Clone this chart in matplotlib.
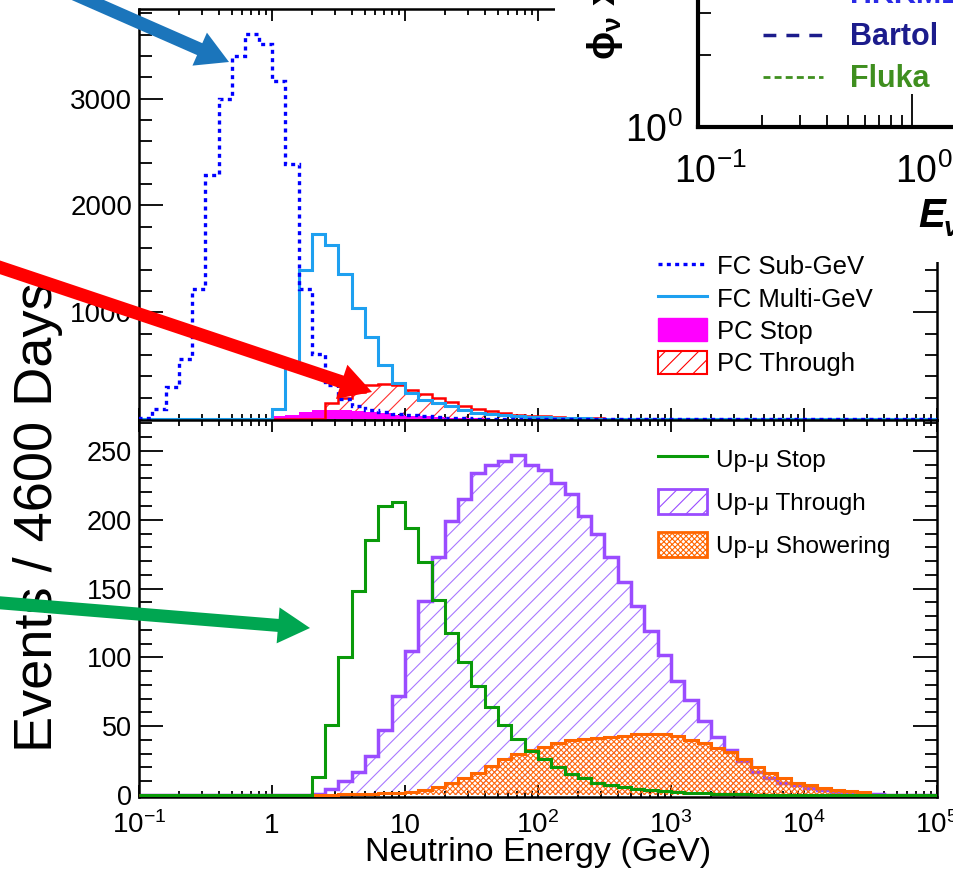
import numpy as np
import matplotlib.pyplot as plt
from matplotlib.patches import FancyArrow, Rectangle, Patch
from matplotlib.lines import Line2D
from matplotlib.ticker import (MultipleLocator, FixedLocator, LogLocator,
                               FuncFormatter, NullFormatter)
from matplotlib.transforms import IdentityTransform, ScaledTranslation

plt.rcParams['font.family'] = ['Liberation Sans', 'DejaVu Sans']
plt.rcParams['mathtext.default'] = 'regular'
plt.rcParams['hatch.linewidth'] = 0.8

# neutrino energy bins, 10 per decade from 0.1 GeV to 1e5 GeV
log_edges = np.round(np.arange(-1.0, 5.05, 0.1), 1)
edges = 10 ** log_edges

# FC / PC samples: first bin (log10 E) and the bin contents from there on
fc_subgev_start = -1.0
fc_subgev = [10, 97, 300, 559, 1214, 2282, 2993, 3396, 3609, 3515, 3162, 2391,
             1214, 610, 322, 191, 122, 82, 62, 48, 35, 26, 18, 12, 8, 5, 3, 2, 1]
fc_multigev_start = 0.0
fc_multigev = [90, 520, 1400, 1728, 1634, 1362, 1043, 769, 508, 337, 244, 180,
               150, 118, 88, 60, 48, 36, 30, 22, 16, 12, 9, 6, 4, 3, 2, 1.5, 1]
pc_stop_start = -0.3
pc_stop = [2, 4, 10, 26, 41, 62, 81, 87, 82, 75, 64, 52, 42, 33, 25, 18, 13, 9,
           6, 4, 3, 2, 1]
pc_through_start = 0.4
pc_through = [150, 200, 250, 320, 325, 320, 275, 235, 195, 155, 125, 95, 72, 55,
              42, 32, 25, 18, 13, 9, 6, 4, 3, 2, 1.5, 1]

# upward-going muon samples
upmu_stop_start = 0.3
upmu_stop = [13, 51, 100, 148, 185, 210, 213, 194, 169, 142, 118, 97, 79, 64, 51,
             41, 32, 26, 20, 15, 12, 9, 7, 5.6, 4.4, 3.4, 2.7, 2.2, 1.6, 1.2, 0.9,
             0.6, 0.4, 0.3]
upmu_through_start = 0.3
upmu_through = [1, 4, 10, 17, 28, 47, 72, 105, 141, 173, 199, 215, 234, 240, 243,
                247, 240, 236, 227, 219, 203, 190, 173, 155, 137, 119, 102, 83,
                69, 54, 42, 33, 24.5, 17, 12.4, 8.7, 7, 5, 3.9, 2.5, 1.5, 0.8, 0.4]
upmu_shower_start = 0.4
upmu_shower = [0.3, 0.5, 0.7, 1.0, 1.3, 1.7, 2.5, 3.5, 6, 9, 12, 16, 21, 26, 30,
               33, 35, 38, 40, 41, 41.5, 42, 43, 44, 44.3, 44, 43, 40, 37.7, 34.5,
               31, 26, 20, 16, 12, 9, 7, 4.8, 3.8, 3, 2]

top_labels = ['FC Sub-GeV', 'FC Multi-GeV', 'PC Stop', 'PC Through']
bottom_labels = ['Up-\u03bc Stop', 'Up-\u03bc Through', 'Up-\u03bc Showering']
xtick_vals = [0.1, 1, 10, 100, 1e3, 1e4, 1e5]
xtick_text = ['$10^{-1}$', '1', '10', '$10^{2}$', '$10^{3}$', '$10^{4}$', '$10^{5}$']
flux_labels = ['HKKM11', 'Bartol', 'Fluka']


def fill_bins(start, vals):
    out = np.zeros(len(edges) - 1)
    i = int(round((start + 1.0) * 10))
    out[i:i + len(vals)] = vals
    return out


W, H = 954, 873
fig = plt.figure(figsize=(W / 100, H / 100), dpi=100)
ax1 = fig.add_axes([139 / W, 1 - 420 / H, 798 / W, 411 / H])
ax2 = fig.add_axes([139 / W, 1 - 797 / H, 798 / W, 377 / H])

for ax in (ax1, ax2):
    ax.set_xscale('log')
    ax.set_xlim(0.1, 1e5)
    for s in ax.spines.values():
        s.set_linewidth(1.8)
    ax.tick_params(which='both', direction='in', top=True, right=True, width=1.3)
    ax.tick_params(axis='x', which='major', length=8.5)
    ax.tick_params(axis='x', which='minor', length=4.3)
    ax.tick_params(axis='y', which='major', length=17)
    ax.tick_params(axis='y', which='minor', length=9)
    ax.xaxis.set_major_locator(FixedLocator(xtick_vals))
    ax.xaxis.set_minor_locator(LogLocator(base=10, subs=np.arange(2, 10), numticks=40))
    ax.xaxis.set_minor_formatter(NullFormatter())

# ---- top panel: FC and PC
c_sub, c_multi, c_stop, c_thru = '#0000ff', '#1ea0f0', '#ff00ff', '#ff0000'
ax1.stairs(fill_bins(pc_through_start, pc_through), edges, fill=True,
           facecolor='none', edgecolor='#ff3030', hatch='//', lw=0, zorder=1)
ax1.stairs(fill_bins(pc_stop_start, pc_stop), edges, fill=True, color=c_stop,
           lw=0, zorder=2)
ax1.stairs(fill_bins(pc_through_start, pc_through), edges, color=c_thru, lw=1.8, zorder=3)
ax1.stairs(fill_bins(fc_multigev_start, fc_multigev), edges, color=c_multi, lw=2.2, zorder=4)
ax1.stairs(fill_bins(fc_subgev_start, fc_subgev), edges, color=c_sub, lw=2.4,
           ls=(0, (1.2, 1.3)), zorder=5)
ax1.set_ylim(-9, 3839)
ax1.yaxis.set_major_locator(MultipleLocator(1000))
ax1.yaxis.set_minor_locator(MultipleLocator(200))
ax1.yaxis.set_major_formatter(FuncFormatter(lambda v, p: '' if v < 1 else f'{v:.0f}'))
ax1.tick_params(axis='y', labelsize=20, pad=5)
ax1.tick_params(labelbottom=False)

h_top = [Line2D([], [], color=c_sub, lw=2.4, ls=(0, (1.2, 1.3))),
         Line2D([], [], color=c_multi, lw=2.2),
         Patch(facecolor=c_stop, edgecolor=c_stop),
         Patch(facecolor='none', edgecolor=c_thru, hatch='//', lw=1.5)]
ax1.legend(h_top, top_labels, loc='upper left', bbox_to_anchor=(658 / W, 1 - 254 / H),
           bbox_transform=fig.transFigure, frameon=False, fontsize=18.5,
           handlelength=1.9, handleheight=1.0, handletextpad=0.4,
           labelspacing=0.27, borderpad=0, borderaxespad=0)

# ---- bottom panel: upward-going muons
c_ustop, c_uthru, c_ushow = '#0a9a0a', '#9a4cff', '#ff6600'
ax2.stairs(fill_bins(upmu_through_start, upmu_through), edges, fill=True,
           facecolor='none', edgecolor='#a878ff', hatch='//', lw=0, zorder=1)
ax2.stairs(fill_bins(upmu_through_start, upmu_through), edges, color=c_uthru, lw=2.5, zorder=2)
ax2.stairs(fill_bins(upmu_shower_start, upmu_shower), edges, fill=True,
           facecolor='none', edgecolor='#ff6a10', hatch='xxxxxx', lw=0, zorder=3)
ax2.stairs(fill_bins(upmu_shower_start, upmu_shower), edges, color=c_ushow, lw=2.2, zorder=4)
ax2.stairs(fill_bins(upmu_stop_start, upmu_stop), edges, color=c_ustop, lw=2.2, zorder=5)
ax2.set_ylim(-1.45, 272.5)
ax2.yaxis.set_major_locator(MultipleLocator(50))
ax2.yaxis.set_minor_locator(MultipleLocator(10))
ax2.tick_params(axis='y', labelsize=19.5, pad=5)
ax2.set_xticks(xtick_vals, labels=xtick_text)
ax2.tick_params(axis='x', labelsize=20, pad=26)
for t in ax2.xaxis.get_major_ticks():
    t.label1.set_verticalalignment('baseline')

ax2.set_xlabel('Neutrino Energy (GeV)', fontsize=24.5)
ax2.xaxis.set_label_coords(0.5, (797 - 861) / 377)
ax2.xaxis.label.set_verticalalignment('baseline')
ax2.set_ylabel('Events / 4600 Days', fontsize=39)
ax2.yaxis.set_label_coords((38 - 139) / 798, (797 - 517) / 377)
ax2.yaxis.label.set_verticalalignment('center')

h_bot = [Line2D([], [], color=c_ustop, lw=2.2),
         Patch(facecolor='none', edgecolor=c_uthru, hatch='//', lw=2),
         Patch(facecolor='none', edgecolor=c_ushow, hatch='xxxxxx', lw=2)]
ax2.legend(h_bot, bottom_labels, loc='upper left', bbox_to_anchor=(658 / W, 1 - 446 / H),
           bbox_transform=fig.transFigure, frameon=False, fontsize=17.5,
           handlelength=2.0, handleheight=1.2, handletextpad=0.4,
           labelspacing=0.72, borderpad=0, borderaxespad=0)

# ---- flux panel in the top right corner
fig.add_artist(Rectangle((555 / W, 1 - 252 / H), 1, 1, transform=fig.transFigure,
                         facecolor='white', edgecolor='none', zorder=2))
fig.add_artist(Rectangle((900 / W, 1 - 262 / H), 1, 1, transform=fig.transFigure,
                         facecolor='white', edgecolor='none', zorder=2))
ax_in = fig.add_axes([698 / W, 1 - 127 / H, 502 / W, 327 / H], zorder=3)
ax_in.set_xscale('log')
ax_in.set_yscale('log')
ax_in.set_xlim(0.1, 0.1 * 10 ** (502 / 214))
ax_in.set_ylim(1, 10 ** (327 / 239))
ax_in.spines[['top', 'right']].set_visible(False)
for s in ('left', 'bottom'):
    ax_in.spines[s].set_linewidth(3)
ax_in.set_xticks([0.1, 1, 10], labels=['$10^{-1}$', '$10^{0}$', '$10^{1}$'])
ax_in.set_yticks([1, 10], labels=['$10^{0}$', '$10^{1}$'])
ax_in.xaxis.set_minor_locator(LogLocator(base=10, subs=np.arange(2, 10), numticks=40))
ax_in.yaxis.set_minor_locator(LogLocator(base=10, subs=np.arange(2, 10), numticks=40))
ax_in.xaxis.set_minor_formatter(NullFormatter())
ax_in.yaxis.set_minor_formatter(NullFormatter())
ax_in.tick_params(which='both', direction='in', width=1.3, labelsize=27)
ax_in.tick_params(which='major', length=24)
ax_in.tick_params(which='minor', length=9)
ax_in.tick_params(axis='y', pad=11)
ax_in.tick_params(axis='x', pad=40)
shift = ScaledTranslation(0.12, 0, fig.dpi_scale_trans)
for t in ax_in.xaxis.get_major_ticks():
    t.label1.set_verticalalignment('baseline')
    t.label1.set_transform(t.label1.get_transform() + shift)

h_flux = [Line2D([], [], color='#2a2ae6', lw=2.5),
          Line2D([], [], color='#1c1c8c', lw=2.5, ls=(0, (3.7, 2.9))),
          Line2D([], [], color='#3f8f1f', lw=2, ls=(0, (2.5, 1.5)))]
ax_in.legend(h_flux, flux_labels, loc='upper left', bbox_to_anchor=(763 / W, 1 + 20 / H),
             bbox_transform=fig.transFigure, frameon=False,
             prop={'weight': 'bold', 'size': 22},
             labelcolor=['#2a2ae6', '#1c1c8c', '#3f8f1f'],
             handlelength=1.97, handletextpad=0.89, labelspacing=0.4,
             borderpad=0, borderaxespad=0)

fig.text(603 / W, 1 - 60 / H, r'$\phi_{\nu}$ x E$^{2}$', rotation=90, ha='center',
         va='bottom', fontsize=27, fontweight='bold', zorder=4)
fig.text(918 / W, 1 - 227 / H, 'E', fontsize=29, fontweight='bold', style='italic',
         va='baseline', zorder=4)
fig.text(944 / W, 1 - 236 / H, '\u03bd', fontsize=20, fontweight='bold', style='italic',
         va='baseline', zorder=4)

# ---- pointer arrows (pixel coordinates, origin bottom left)
arrows = [((40, H + 21), (229, H - 62), '#1b75bb'),
          ((-10, H - 264), (372, H - 392), '#ff0000'),
          ((-10, H - 602), (310, H - 628), '#00a651')]
for (x0, y0), (x1, y1), col in arrows:
    fig.add_artist(FancyArrow(x0, y0, x1 - x0, y1 - y0, width=13, head_width=36,
                              head_length=32, length_includes_head=True, color=col,
                              lw=0, transform=IdentityTransform(), zorder=6))

fig.savefig('out.png', dpi=100)
